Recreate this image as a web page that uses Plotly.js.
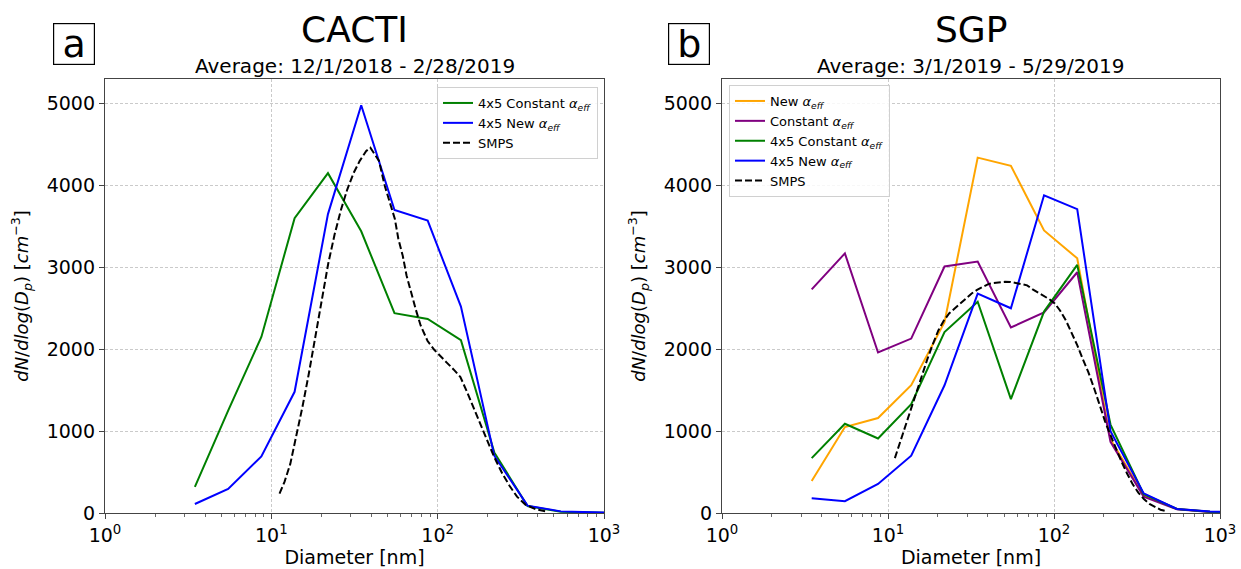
<!DOCTYPE html>
<html>
<head>
<meta charset="utf-8">
<script src="https://cdn.plot.ly/plotly-3.0.1.min.js"></script>
<style>html,body{margin:0;padding:0;background:#fff;}#chart{width:1241px;height:569px;}</style>
</head>
<body>
<div id="chart"></div>
<script>
// Model size bins (nm)
const xBins = [3.47, 5.50, 8.71, 13.8, 21.9, 34.7, 55.0, 87.1, 138, 219, 347, 550, 871, 1380];

// Panel a: CACTI
const cacti45Const = [320, 1250, 2150, 3600, 4150, 3440, 2440, 2370, 2110, 740, 85, 15, 5, 2];
const cacti45New   = [110, 295, 690, 1480, 3650, 4980, 3700, 3570, 2520, 700, 90, 20, 8, 3];
const cactiSmpsD = [11.2, 12.0, 13.0, 14.1, 15.4, 16.8, 18.4, 20.1, 22.0, 24.0, 26.2, 28.6, 31.2, 34.0, 37.2, 39.4, 42.0, 44.4, 48.0, 52.0, 55.3, 58.0, 61.7, 65.0, 69.0, 74.0, 79.0, 87.0, 95.7, 105, 113, 125, 137, 150, 166, 190, 218, 245, 271, 300, 338, 390, 444];
const cactiSmpsN = [237, 380, 600, 920, 1300, 1700, 2150, 2600, 3050, 3400, 3700, 3950, 4150, 4300, 4420, 4460, 4380, 4300, 4000, 3750, 3590, 3350, 3140, 2900, 2700, 2480, 2290, 2100, 1990, 1900, 1840, 1750, 1660, 1480, 1270, 980, 690, 480, 330, 200, 100, 45, 20];

// Panel b: SGP
const sgpNew      = [390, 1050, 1160, 1560, 2330, 4340, 4240, 3450, 3110, 900, 220, 50, 15, 5];
const sgpConst    = [2730, 3170, 1960, 2130, 3010, 3070, 2265, 2450, 2940, 870, 200, 45, 12, 4];
const sgp45Const  = [670, 1090, 910, 1330, 2210, 2580, 1390, 2460, 3030, 1080, 230, 50, 15, 5];
const sgp45New    = [180, 145, 355, 700, 1560, 2680, 2500, 3880, 3710, 1000, 240, 50, 20, 8];
const sgpSmpsD = [11.0, 11.8, 12.7, 13.7, 14.8, 16.0, 17.2, 18.6, 20.1, 21.7, 23.4, 25.3, 27.3, 29.5, 31.9, 34.4, 37.2, 40.2, 43.4, 46.9, 50.6, 54.7, 59.0, 63.8, 68.9, 74.4, 80.4, 86.8, 93.8, 101, 109, 118, 128, 138, 149, 161, 174, 188, 203, 219, 237, 256, 276, 298, 322, 348, 376, 406, 438, 470];
const sgpSmpsN = [670, 860, 1060, 1270, 1480, 1680, 1870, 2060, 2230, 2350, 2440, 2500, 2560, 2620, 2680, 2725, 2765, 2795, 2810, 2818, 2823, 2822, 2810, 2795, 2780, 2730, 2690, 2660, 2610, 2560, 2470, 2350, 2200, 2050, 1880, 1720, 1530, 1320, 1120, 950, 780, 620, 480, 350, 250, 170, 110, 70, 40, 25];

// Axis ticks
const xTickVals = [1, 10, 100, 1000];
const xTickText = ['10<sup>0</sup>', '10<sup>1</sup>', '10<sup>2</sup>', '10<sup>3</sup>'];
const xMinorVals = [2,3,4,5,6,7,8,9,20,30,40,50,60,70,80,90,200,300,400,500,600,700,800,900];
const yTickVals = [0, 1000, 2000, 3000, 4000, 5000];

const titles = ['CACTI', 'SGP'];
const subtitles = ['Average: 12/1/2018 - 2/28/2019', 'Average: 3/1/2019 - 5/29/2019'];
const panelLabels = ['a', 'b'];

const ALPHA = '<i>α</i><sub><i>eff</i></sub>';
const FONT = 'DejaVu Sans, Arial, sans-serif';

function line(x, y, name, color, xa, ya, legend, dash) {
  return {
    x: x, y: y, name: name, type: 'scatter', mode: 'lines',
    xaxis: xa, yaxis: ya, legend: legend,
    line: {color: color, width: 2, dash: dash || 'solid'}
  };
}

const DASH = '7px,3px';
const data = [
  line(xBins, cacti45Const, '4x5 Constant ' + ALPHA, '#008000', 'x', 'y', 'legend'),
  line(xBins, cacti45New, '4x5 New ' + ALPHA, '#0000ff', 'x', 'y', 'legend'),
  line(cactiSmpsD, cactiSmpsN, 'SMPS', '#000000', 'x', 'y', 'legend', DASH),
  line(xBins, sgpNew, 'New ' + ALPHA, '#ffa500', 'x2', 'y2', 'legend2'),
  line(xBins, sgpConst, 'Constant ' + ALPHA, '#800080', 'x2', 'y2', 'legend2'),
  line(xBins, sgp45Const, '4x5 Constant ' + ALPHA, '#008000', 'x2', 'y2', 'legend2'),
  line(xBins, sgp45New, '4x5 New ' + ALPHA, '#0000ff', 'x2', 'y2', 'legend2'),
  line(sgpSmpsD, sgpSmpsN, 'SMPS', '#000000', 'x2', 'y2', 'legend2', DASH)
];

const AXCOL = '#444444';
function xAxis(domain, anchor) {
  return {
    domain: domain, anchor: anchor, type: 'log', range: [0, 3],
    tickmode: 'array', tickvals: xTickVals, ticktext: xTickText,
    ticks: 'outside', ticklen: 5, tickwidth: 1, tickcolor: AXCOL,
    showline: true, mirror: true, linecolor: AXCOL, linewidth: 1.2,
    showgrid: true, gridcolor: '#bdbdbd', gridwidth: 0.8, griddash: '3px,2px',
    zeroline: false,
    tickfont: {family: FONT, size: 19, color: '#000'},
    minor: {tickmode: 'array', tickvals: xMinorVals, ticks: 'outside', ticklen: 3, tickwidth: 0.8, tickcolor: AXCOL, showgrid: false},
    title: {text: 'Diameter [nm]', font: {family: FONT, size: 19, color: '#000'}, standoff: 4}
  };
}
function yAxis(domain, anchor) {
  return {
    domain: domain, anchor: anchor, range: [0, 5300],
    tickmode: 'array', tickvals: yTickVals,
    ticks: 'outside', ticklen: 5, tickwidth: 1, tickcolor: AXCOL,
    showline: true, mirror: true, linecolor: AXCOL, linewidth: 1.2,
    showgrid: true, gridcolor: '#bdbdbd', gridwidth: 0.8, griddash: '3px,2px',
    zeroline: false,
    tickfont: {family: FONT, size: 19, color: '#000'},
    title: {text: '<i>dN</i>/<i>dlog</i>(<i>D<sub>p</sub></i>) [<i>cm</i><sup>−3</sup>]', font: {family: FONT, size: 18, color: '#000'}, standoff: 13}
  };
}

const yDom = [0.0984, 0.8612];
const xDom1 = [105/1241, 604/1241];
const xDom2 = [722/1241, 1220/1241];

function annots() {
  const out = [];
  const centers = [(xDom1[0] + xDom1[1]) / 2, (xDom2[0] + xDom2[1]) / 2];
  const labX = [74/1241, 689/1241];
  for (let i = 0; i < 2; i++) {
    out.push({xref: 'paper', yref: 'paper', x: centers[i], y: 1 - 30/569, xanchor: 'center', yanchor: 'middle',
      text: titles[i], showarrow: false, font: {family: FONT, size: 36, color: '#000'}});
    out.push({xref: 'paper', yref: 'paper', x: centers[i], y: 1 - 66/569, xanchor: 'center', yanchor: 'middle',
      text: subtitles[i], showarrow: false, font: {family: FONT, size: 20, color: '#000'}});
    out.push({xref: 'paper', yref: 'paper', x: labX[i], y: 1 - 44/569, xanchor: 'center', yanchor: 'middle',
      text: panelLabels[i], showarrow: false, font: {family: FONT, size: 38, color: '#000'},
      width: 38, height: 38, align: 'center', valign: 'middle',
      bordercolor: '#000', borderwidth: 1.2, borderpad: 1, bgcolor: '#fff'});
  }
  return out;
}

const legendStyle = {
  bgcolor: 'rgba(255,255,255,0.85)', bordercolor: '#d0d0d0', borderwidth: 1,
  font: {family: FONT, size: 13, color: '#000'}, tracegroupgap: 0, itemwidth: 30
};

const layout = {
  width: 1241, height: 569,
  margin: {l: 0, r: 0, t: 0, b: 0},
  paper_bgcolor: '#fff', plot_bgcolor: '#fff',
  showlegend: true,
  xaxis: xAxis(xDom1, 'y'),
  yaxis: yAxis(yDom, 'x'),
  xaxis2: xAxis(xDom2, 'y2'),
  yaxis2: yAxis(yDom, 'x2'),
  legend: Object.assign({x: 598/1241, y: 1 - 87/569, xanchor: 'right', yanchor: 'top'}, legendStyle),
  legend2: Object.assign({x: 729/1241, y: 1 - 85/569, xanchor: 'left', yanchor: 'top'}, legendStyle),
  annotations: annots()
};

Plotly.newPlot('chart', data, layout, {displayModeBar: false, staticPlot: true});
</script>
</body>
</html>
